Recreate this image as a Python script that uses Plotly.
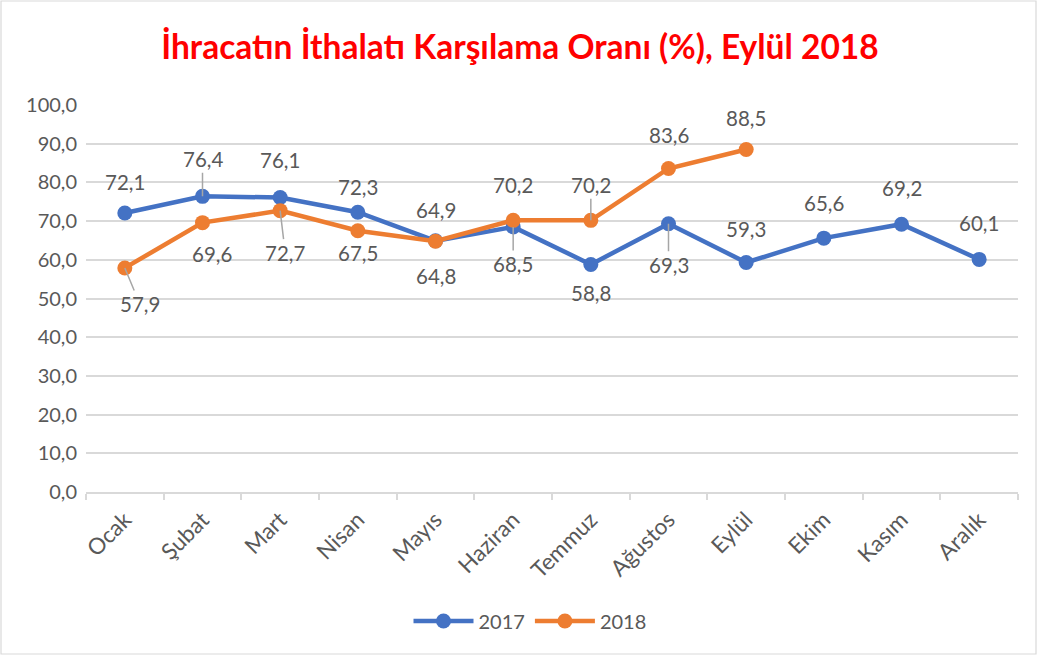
import plotly.graph_objects as go

months = ["Ocak", "Şubat", "Mart", "Nisan", "Mayıs", "Haziran", "Temmuz",
          "Ağustos", "Eylül", "Ekim", "Kasım", "Aralık"]
v2017 = [72.1, 76.4, 76.1, 72.3, 64.9, 68.5, 58.8, 69.3, 59.3, 65.6, 69.2, 60.1]
v2018 = [57.9, 69.6, 72.7, 67.5, 64.8, 70.2, 70.2, 83.6, 88.5]
title = "İhracatın İthalatı Karşılama Oranı (%), Eylül 2018"

# label placement (pixel offsets) and leader-line flags
off2017 = [(0, -31), (0, -37), (0, -37), (0, -25), (0, -31), (0, 37), (0, 29),
           (0, 41), (0, -34), (0, -35), (0, -36), (0, -36)]
lead2017 = [False, True, False, False, False, True, False, True, False, False, False, False]
off2018 = [(15, 36), (9, 31), (5, 42), (0, 22), (0, 35), (0, -35), (0, -35), (0, -33), (0, -32)]
lead2018 = [True, False, True, False, False, False, True, False, False]

BLUE = "#4472C4"
ORANGE = "#ED7D31"
GRAY = "#595959"
GRID = "#D9D9D9"
FONT = "Lato"

W, H = 1038, 656
ml, mr, mt, mb = 86, 20, 105, 164

fig = go.Figure()
fig.add_trace(go.Scatter(x=months, y=v2017, name="2017", mode="lines+markers",
                         line=dict(color=BLUE, width=4.5), marker=dict(size=15, color=BLUE)))
fig.add_trace(go.Scatter(x=months[:len(v2018)], y=v2018, name="2018", mode="lines+markers",
                         line=dict(color=ORANGE, width=4.5), marker=dict(size=15, color=ORANGE)))

def fmt(v):
    return f"{v:.1f}".replace(".", ",")

for vals, offs, leads in ((v2017, off2017, lead2017), (v2018, off2018, lead2018)):
    for m, v, (dx, dy), ld in zip(months, vals, offs, leads):
        if ld:
            fig.add_annotation(x=m, y=v, text=fmt(v), showarrow=True, arrowhead=0,
                               arrowwidth=1.5, arrowcolor="#A6A6A6", ax=dx, ay=dy,
                               standoff=0, font=dict(size=20.5, color=GRAY, family=FONT))
        else:
            fig.add_annotation(x=m, y=v, text=fmt(v), showarrow=False, xshift=dx, yshift=-dy,
                               font=dict(size=20.5, color=GRAY, family=FONT))

pw = W - ml - mr
ph = H - mt - mb
fig.add_shape(type="rect", xref="paper", yref="paper",
              x0=-(ml - 1) / pw, x1=1 + (mr - 2) / pw,
              y0=-(mb - 2) / ph, y1=1 + (mt - 1) / ph,
              line=dict(color=GRID, width=1.2), layer="below")

fig.update_layout(
    width=W, height=H,
    margin=dict(l=ml, r=mr, t=mt, b=mb, autoexpand=False),
    paper_bgcolor="white", plot_bgcolor="white",
    separators=",.",
    title=dict(text=f"<b>{title}</b>", x=520 / W, xref="container", xanchor="center",
               y=1 - 47 / H, yanchor="middle",
               font=dict(size=33.5, color="#FF0000", family=FONT)),
    font=dict(family=FONT, color=GRAY, size=20),
    showlegend=True,
    legend=dict(orientation="h", xref="container", x=530 / W, xanchor="center",
                y=-(621 - 492) / ph, yanchor="middle",
                font=dict(size=20, color=GRAY), itemwidth=60),
    xaxis=dict(type="category", range=[-0.5, 11.5], showgrid=False, automargin=False,
               showline=True, linecolor=GRID, linewidth=1.5,
               ticks="outside", tickson="boundaries", ticklen=6, tickcolor=GRID, tickwidth=1.5,
               tickangle=-45, tickfont=dict(size=22.5, color=GRAY), ticklabelstandoff=4),
    yaxis=dict(range=[0, 100], dtick=10, tickformat=".1f", showgrid=True, automargin=False,
               gridcolor=GRID, gridwidth=1.5, zeroline=False, showline=False,
               ticks="", tickfont=dict(size=20, color=GRAY), ticklabelstandoff=8),
)

fig.write_html("out.html", config={"displayModeBar": False},
               post_script="document.body.style.margin='0';")
